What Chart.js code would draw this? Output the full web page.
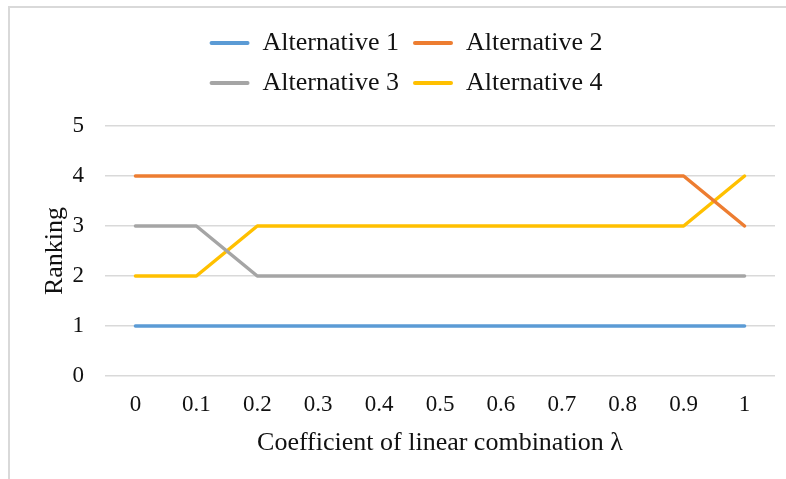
<!DOCTYPE html>
<html>
<head>
<meta charset="utf-8">
<script src="https://cdn.jsdelivr.net/npm/chart.js@4/dist/chart.umd.min.js"></script>
<style>
  html, body { margin: 0; padding: 0; background: #fff; overflow: hidden; }
  #wrap { position: relative; width: 786px; height: 479px; }
  #frame { position: absolute; left: 8px; top: 6px; width: 800px; height: 500px;
           border-top: 2px solid #d9d9d9; border-left: 2px solid #d9d9d9; box-sizing: border-box; }
  canvas { position: absolute; left: 0; top: 0; }
</style>
</head>
<body>
<div id="wrap">
  <div id="frame"></div>
  <canvas id="c" width="786" height="479"></canvas>
</div>
<script>
const categories = ['0', '0.1', '0.2', '0.3', '0.4', '0.5', '0.6', '0.7', '0.8', '0.9', '1'];
const alternative1 = [1, 1, 1, 1, 1, 1, 1, 1, 1, 1, 1];
const alternative2 = [4, 4, 4, 4, 4, 4, 4, 4, 4, 4, 3];
const alternative3 = [3, 3, 2, 2, 2, 2, 2, 2, 2, 2, 2];
const alternative4 = [2, 2, 3, 3, 3, 3, 3, 3, 3, 3, 4];
const seriesNames = ['Alternative 1', 'Alternative 2', 'Alternative 3', 'Alternative 4'];
const seriesColors = ['#5B9BD5', '#ED7D31', '#A5A5A5', '#FFC000'];
const yTicks = [0, 1, 2, 3, 4, 5];

const FONT = "'Liberation Serif', 'Times New Roman', serif";
Chart.defaults.font.family = FONT;
Chart.defaults.color = '#111';

const allSeries = [alternative1, alternative2, alternative3, alternative4];
const datasets = allSeries.map((d, i) => ({
  label: seriesNames[i],
  data: d,
  borderColor: seriesColors[i],
  backgroundColor: seriesColors[i],
  borderWidth: 3.5,
  borderCapStyle: 'round',
  borderJoinStyle: 'round',
  pointRadius: 0,
  tension: 0
}));

const legendGap = {
  id: 'legendGap',
  beforeInit(chart) {
    const lg = chart.legend;
    if (lg && !lg._patched) {
      const orig = lg.fit;
      lg.fit = function () {
        const mw = this.maxWidth;
        this.maxWidth = 520;
        orig.call(this);
        this.maxWidth = mw;
        this.width = mw;
        this.height += 20;
      };
      lg._patched = true;
    }
  }
};

new Chart(document.getElementById('c'), {
  type: 'line',
  data: { labels: categories, datasets },
  plugins: [legendGap],
  options: {
    responsive: false,
    animation: false,
    layout: { padding: { left: 37, right: 11, top: 16, bottom: 0 } },
    plugins: {
      tooltip: { enabled: false },
      legend: {
        position: 'top',
        labels: {
          boxWidth: 40,
          boxHeight: 4,
          padding: 14,
          useBorderRadius: true,
          borderRadius: 2,
          color: '#111',
          font: { size: 26, family: FONT },
          generateLabels(chart) {
            const items = Chart.defaults.plugins.legend.labels.generateLabels(chart);
            items.forEach(it => { it.lineWidth = 0; it.strokeStyle = 'rgba(0,0,0,0)'; });
            return items;
          }
        }
      }
    },
    scales: {
      x: {
        type: 'category',
        offset: true,
        grid: { display: false, drawTicks: false },
        border: { display: false },
        ticks: { padding: 15, font: { size: 23 }, color: '#111', maxRotation: 0, autoSkip: false },
        title: { display: true, text: 'Coefficient of linear combination λ', font: { size: 26 }, color: '#111', padding: { top: 0, bottom: 20 } },
        afterFit(s) { s.height = 103; }
      },
      y: {
        min: 0, max: 5,
        afterBuildTicks(s) { s.ticks = yTicks.map(v => ({ value: v })); },
        grid: { color: '#d9d9d9', lineWidth: 1.5, drawTicks: false },
        border: { display: false },
        ticks: { padding: 21, font: { size: 23 }, color: '#111' },
        title: { display: true, text: 'Ranking', font: { size: 26 }, color: '#111', padding: { top: 3, bottom: 0 } },
        afterFit(s) { s.width = 68; }
      }
    }
  }
});
</script>
</body>
</html>
